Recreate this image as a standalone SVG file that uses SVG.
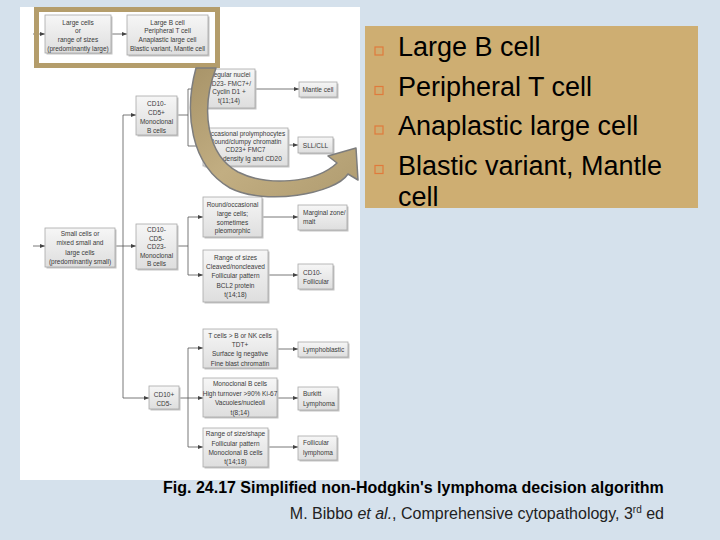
<svg xmlns="http://www.w3.org/2000/svg" width="720" height="540" viewBox="0 0 720 540">
<defs>
<linearGradient id="bg" x1="0" y1="0" x2="0" y2="1"><stop offset="0" stop-color="#f6f6f6"/><stop offset="1" stop-color="#dedede"/></linearGradient>
<linearGradient id="ag" x1="0" y1="0" x2="1" y2="1"><stop offset="0" stop-color="#a89469"/><stop offset="0.5" stop-color="#c2ae82"/><stop offset="1" stop-color="#b09c70"/></linearGradient>
<marker id="ah" markerWidth="5" markerHeight="4" refX="5" refY="2" orient="auto" markerUnits="userSpaceOnUse"><path d="M0,0 L5,2 L0,4 Z" fill="#444"/></marker>
<style>
.sh{fill:#c4c4c4}
.bx{fill:url(#bg);stroke:#a8a8a8;stroke-width:0.8}
.t{font-family:"Liberation Sans",Arial,sans-serif;font-size:6.5px;fill:#3a3a3a;text-anchor:middle}
.tl{font-family:"Liberation Sans",Arial,sans-serif;font-size:6.5px;fill:#3a3a3a}
.c{fill:none;stroke:#555;stroke-width:0.8}
.ca{fill:none;stroke:#555;stroke-width:0.8;marker-end:url(#ah)}
.bl{font-family:"Liberation Sans",Arial,sans-serif;font-size:27px;fill:#000}
.bu{fill:none;stroke:#e07a3c;stroke-width:1.2}
</style>
</defs>
<rect x="0" y="0" width="720" height="540" fill="#d5e1ec"/>
<rect x="20" y="7" width="340" height="473" fill="#ffffff"/>

<g id="connectors">
<path class="ca" d="M33,34 H45"/>
<path class="ca" d="M111,34 H127"/>
<path class="ca" d="M123,398 V115 H136"/>
<path class="ca" d="M123,398 H149"/>
<path class="ca" d="M33,246 H45"/>
<path class="ca" d="M115,246 H136"/>
<path class="c" d="M177,115 H188 M188,89 V146"/>
<path class="ca" d="M188,89 H203"/>
<path class="ca" d="M188,146 H203"/>
<path class="ca" d="M255,89 H299"/>
<path class="ca" d="M288,145 H298"/>
<path class="c" d="M177,246 H188 M188,217 V275"/>
<path class="ca" d="M188,217 H203"/>
<path class="ca" d="M188,275 H203"/>
<path class="ca" d="M262,217 H298"/>
<path class="ca" d="M268,275 H298"/>
<path class="c" d="M188,348 V447"/>
<path class="ca" d="M188,348 H203"/>
<path class="ca" d="M188,447 H203"/>
<path class="ca" d="M179,398 H203"/>
<path class="ca" d="M277,349 H298"/>
<path class="ca" d="M277,398 H298"/>
<path class="ca" d="M268,447 H298"/>
</g>

<g id="n-large-cells">
<rect class="sh" x="46.5" y="16.5" width="66" height="38"/><rect class="bx" x="45" y="15" width="66" height="38"/>
<text class="t" x="78" y="24.5">Large cells</text><text class="t" x="78" y="32.5">or</text><text class="t" x="78" y="41.5">range of sizes</text><text class="t" x="78" y="50.5">(predominantly large)</text>
</g>
<g id="n-large-b">
<rect class="sh" x="128.5" y="16.5" width="81" height="40"/><rect class="bx" x="127" y="15" width="81" height="40"/>
<text class="t" x="167.5" y="24.5">Large B cell</text><text class="t" x="167.5" y="32.5">Peripheral T cell</text><text class="t" x="167.5" y="41.5">Anaplastic large cell</text><text class="t" x="167.5" y="50.5">Blastic variant, Mantle cell</text>
</g>
<g id="n-irregular">
<rect class="sh" x="204.5" y="70.5" width="52" height="39"/><rect class="bx" x="203" y="69" width="52" height="39"/>
<text class="t" x="229" y="77">Irregular nuclei</text><text class="t" x="229" y="85.5">CD23- FMC7+/</text><text class="t" x="229" y="94">Cyclin D1 +</text><text class="t" x="229" y="103">t(11;14)</text>
</g>
<g id="n-mantle">
<rect class="sh" x="300.5" y="83.5" width="38" height="15"/><rect class="bx" x="299" y="82" width="38" height="15"/>
<text class="t" x="318" y="92">Mantle cell</text>
</g>
<g id="n-cd10-cd5p">
<rect class="sh" x="137.5" y="97.5" width="41" height="39"/><rect class="bx" x="136" y="96" width="41" height="39"/>
<text class="t" x="156.5" y="105.5">CD10-</text><text class="t" x="156.5" y="114.5">CD5+</text><text class="t" x="156.5" y="123.5">Monoclonal</text><text class="t" x="156.5" y="132.5">B cells</text>
</g>
<g id="n-occasional">
<rect class="sh" x="204.5" y="129.5" width="85" height="38"/><rect class="bx" x="203" y="128" width="85" height="38"/>
<text class="t" x="245.5" y="136">Occasional prolymphocytes</text><text class="t" x="245.5" y="144">Round/clumpy chromatin</text><text class="t" x="245.5" y="152">CD23+ FMC7</text><text class="t" x="245.5" y="161">Low density Ig and CD20</text>
</g>
<g id="n-sll">
<rect class="sh" x="299.5" y="138.5" width="35" height="16"/><rect class="bx" x="298" y="137" width="35" height="16"/>
<text class="t" x="315.5" y="147.5">SLL/CLL</text>
</g>
<g id="n-round">
<rect class="sh" x="204.5" y="198.5" width="59" height="40"/><rect class="bx" x="203" y="197" width="59" height="40"/>
<text class="t" x="232.5" y="206.5">Round/occasional</text><text class="t" x="232.5" y="215.5">large cells;</text><text class="t" x="232.5" y="224.5">sometimes</text><text class="t" x="232.5" y="233">pleomorphic</text>
</g>
<g id="n-marginal">
<rect class="sh" x="299.5" y="206.5" width="49" height="25"/><rect class="bx" x="298" y="205" width="49" height="25"/>
<text class="tl" x="303" y="215">Marginal zone/</text><text class="tl" x="303" y="224">malt</text>
</g>
<g id="n-small-cells">
<rect class="sh" x="46.5" y="229.5" width="70" height="39"/><rect class="bx" x="45" y="228" width="70" height="39"/>
<text class="t" x="80" y="235.5">Small cells or</text><text class="t" x="80" y="245">mixed small and</text><text class="t" x="80" y="254.5">large cells</text><text class="t" x="80" y="263.5">(predominantly small)</text>
</g>
<g id="n-cd10-cd5m-cd23m">
<rect class="sh" x="137.5" y="225.5" width="41" height="45"/><rect class="bx" x="136" y="224" width="41" height="45"/>
<text class="t" x="156.5" y="232">CD10-</text><text class="t" x="156.5" y="240.5">CD5-</text><text class="t" x="156.5" y="249">CD23-</text><text class="t" x="156.5" y="257.5">Monoclonal</text><text class="t" x="156.5" y="266">B cells</text>
</g>
<g id="n-range-sizes">
<rect class="sh" x="204.5" y="251.5" width="65" height="52"/><rect class="bx" x="203" y="250" width="65" height="52"/>
<text class="t" x="235.5" y="259.5">Range of sizes</text><text class="t" x="235.5" y="269">Cleaved/noncleaved</text><text class="t" x="235.5" y="278">Follicular pattern</text><text class="t" x="235.5" y="287.5">BCL2 protein</text><text class="t" x="235.5" y="297">t(14;18)</text>
</g>
<g id="n-cd10-follicular">
<rect class="sh" x="299.5" y="265.5" width="35" height="25"/><rect class="bx" x="298" y="264" width="35" height="25"/>
<text class="tl" x="303" y="274.5">CD10-</text><text class="tl" x="303" y="283.5">Follicular</text>
</g>
<g id="n-tcells">
<rect class="sh" x="204.5" y="330.5" width="74" height="39"/><rect class="bx" x="203" y="329" width="74" height="39"/>
<text class="t" x="240" y="337.5">T cells &gt; B or NK cells</text><text class="t" x="240" y="346.5">TDT+</text><text class="t" x="240" y="356">Surface Ig negative</text><text class="t" x="240" y="365.5">Fine blast chromatin</text>
</g>
<g id="n-lymphoblastic">
<rect class="sh" x="299.5" y="343.5" width="50" height="15"/><rect class="bx" x="298" y="342" width="50" height="15"/>
<text class="tl" x="303" y="352">Lymphoblastic</text>
</g>
<g id="n-cd10p-cd5m">
<rect class="sh" x="150.5" y="387.5" width="30" height="23"/><rect class="bx" x="149" y="386" width="30" height="23"/>
<text class="t" x="164" y="396.5">CD10+</text><text class="t" x="164" y="406">CD5-</text>
</g>
<g id="n-monoclonal-burkitt">
<rect class="sh" x="204.5" y="379.5" width="74" height="39"/><rect class="bx" x="203" y="378" width="74" height="39"/>
<text class="t" x="240" y="386">Monoclonal B cells</text><text class="t" x="240" y="395.5">High turnover &gt;90% Ki-67</text><text class="t" x="240" y="405">Vacuoles/nucleoli</text><text class="t" x="240" y="414.5">t(8;14)</text>
</g>
<g id="n-burkitt">
<rect class="sh" x="299.5" y="388.5" width="40" height="23"/><rect class="bx" x="298" y="387" width="40" height="23"/>
<text class="tl" x="303" y="396">Burkitt</text><text class="tl" x="303" y="406">Lymphoma</text>
</g>
<g id="n-range-shape">
<rect class="sh" x="204.5" y="429.5" width="65" height="39"/><rect class="bx" x="203" y="428" width="65" height="39"/>
<text class="t" x="235.5" y="436">Range of size/shape</text><text class="t" x="235.5" y="445.5">Follicular pattern</text><text class="t" x="235.5" y="455">Monoclonal B cells</text><text class="t" x="235.5" y="464">t(14;18)</text>
</g>
<g id="n-follicular-lymphoma">
<rect class="sh" x="299.5" y="437.5" width="39" height="24"/><rect class="bx" x="298" y="436" width="39" height="24"/>
<text class="tl" x="303" y="445">Follicular</text><text class="tl" x="303" y="455">lymphoma</text>
</g>

<rect id="highlight" x="36.5" y="9.5" width="181" height="56" fill="none" stroke="#b49d6b" stroke-width="5"/>

<path id="curved-arrow" d="M196,68 C184,112 190,165 230,188 C265,206 335,194 348,174 L358,180 L356,148 L328,156 L337,163 C315,184 266,186 238,172 C207,155 200,110 216,68 Z" fill="url(#ag)" stroke="#7d7d7d" stroke-width="1.5" stroke-linejoin="round"/>

<g id="bullet-box">
<rect x="365" y="26" width="333" height="182" fill="#ceae72"/>
<rect class="bu" x="375" y="47" width="8" height="8"/>
<rect class="bu" x="375" y="86.5" width="8" height="8"/>
<rect class="bu" x="375" y="126" width="8" height="8"/>
<rect class="bu" x="375" y="165.5" width="8" height="8"/>
<text class="bl" x="398" y="56">Large B cell</text>
<text class="bl" x="398" y="95.5">Peripheral T cell</text>
<text class="bl" x="398" y="135">Anaplastic large cell</text>
<text class="bl" x="398" y="174.5">Blastic variant, Mantle</text>
<text class="bl" x="398" y="206">cell</text>
</g>

<text x="163" y="493" font-family="'Liberation Sans',Arial,sans-serif" font-size="16" font-weight="bold" fill="#000">Fig. 24.17 Simplified non-Hodgkin's lymphoma decision algorithm</text>
<text x="664" y="519" text-anchor="end" font-family="'Liberation Sans',Arial,sans-serif" font-size="16" fill="#222">M. Bibbo <tspan font-style="italic">et al.</tspan>, Comprehensive cytopathology, 3<tspan font-size="10" dy="-6">rd</tspan><tspan dy="6"> ed</tspan></text>
</svg>
